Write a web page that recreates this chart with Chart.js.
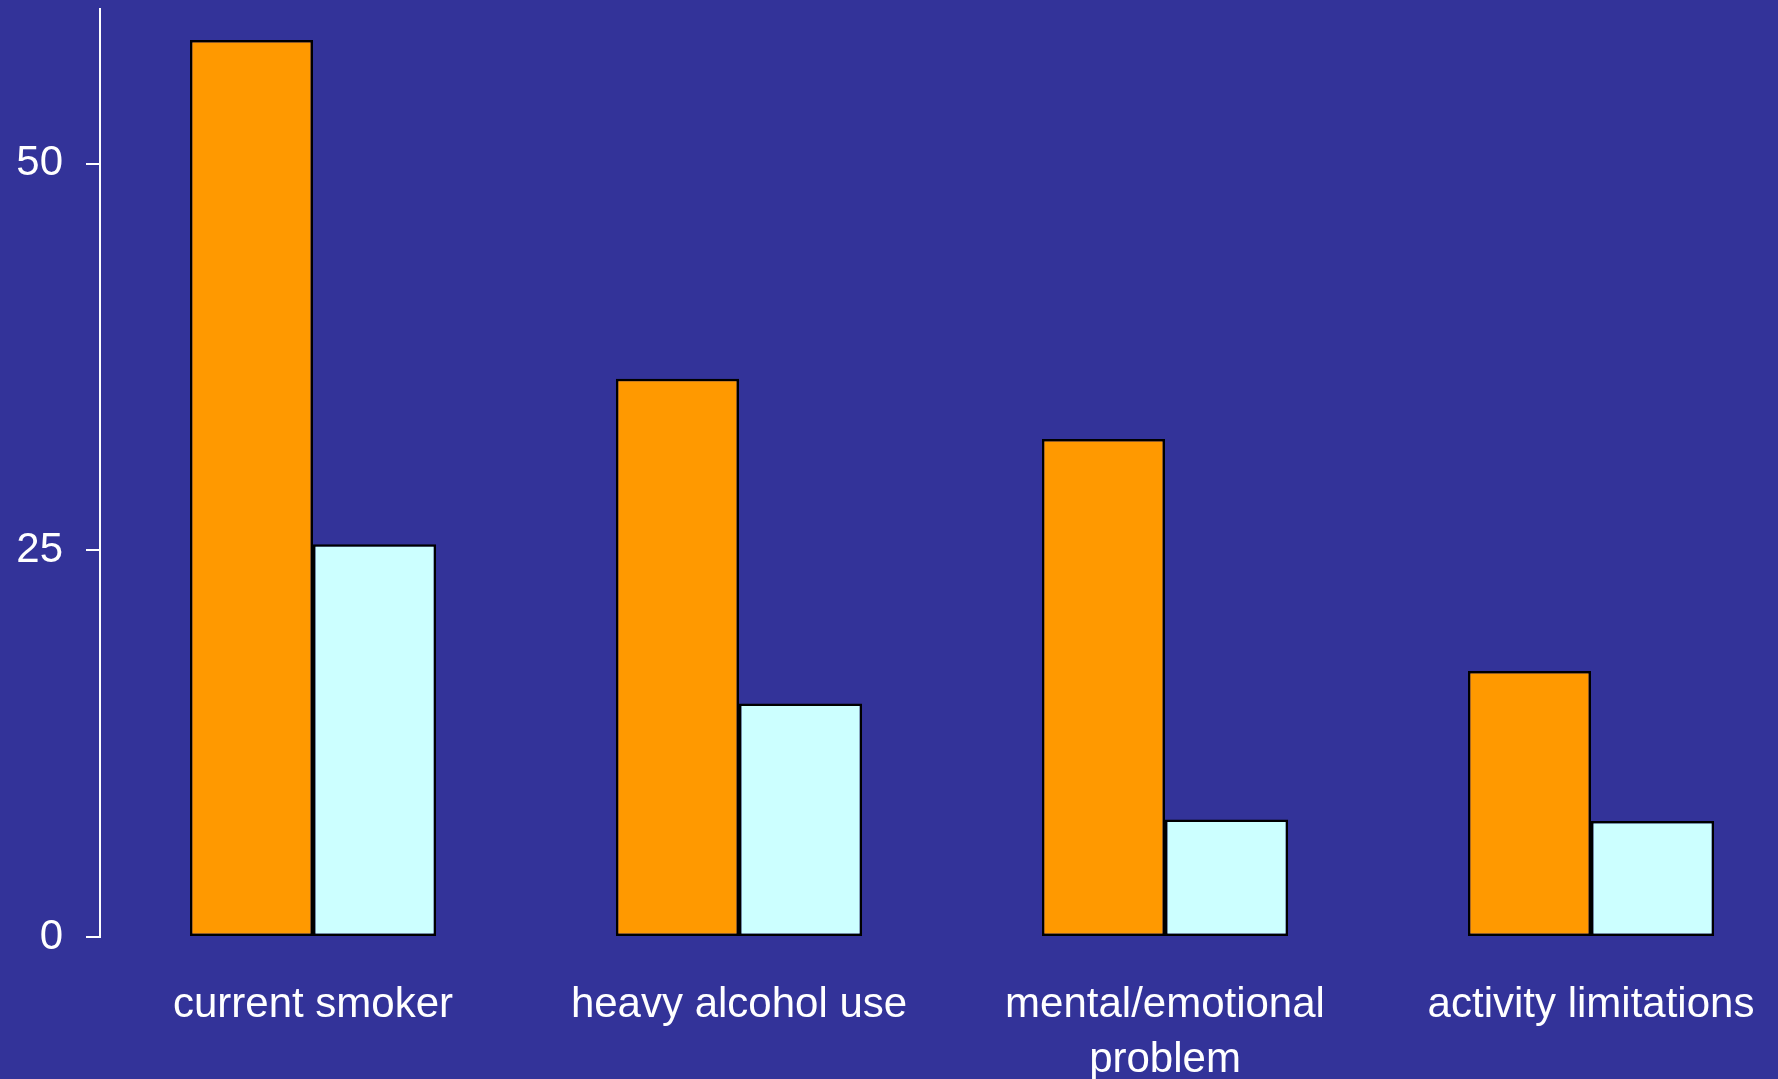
<!DOCTYPE html>
<html>
<head>
<meta charset="utf-8">
<script src="https://cdn.jsdelivr.net/npm/chart.js@4"></script>
<style>
	html, body {
		margin: 0;
		padding: 0;
		overflow: hidden;
		background: #333399;
	}
	#wrap {
		width: 1804px;
		height: 1079px;
	}
</style>
</head>
<body>
<div id="wrap"><canvas id="bar-canvas"></canvas></div>
<script>
const categories = [
	"current smoker",
	"heavy alcohol use",
	["mental/emotional", "problem"],
	"activity limitations",
];
const orangeValues = [58.0, 36.1, 32.2, 17.2];
const cyanValues = [25.4, 15.1, 7.6, 7.5];
const yTicks = [0, 25, 50];

const barCanvas = document.getElementById("bar-canvas").getContext("2d");

Chart.defaults.font.family = "Liberation Sans";
Chart.defaults.font.size = 42;
Chart.defaults.color = "#ffffff";

const barChart = new Chart(barCanvas, {
	type: "bar",

	data: {
		labels: categories,
		datasets: [
			{
				data: orangeValues,
				backgroundColor: "#ff9900",
				borderColor: "#000000",
				borderWidth: 2.5,
				borderSkipped: false,
			},
			{
				data: cyanValues,
				backgroundColor: "#ccffff",
				borderColor: "#000000",
				borderWidth: 2.5,
				borderSkipped: false,
			},
		],
	},

	options: {
		animation: false,
		responsive: true,
		maintainAspectRatio: false,
		layout: {
			padding: { top: 9, right: 0, bottom: 0, left: 0 },
		},
		datasets: {
			bar: {
				categoryPercentage: 0.578,
				barPercentage: 1,
			},
		},
		plugins: {
			legend: {
				display: false,
			},
			tooltip: {
				enabled: false,
			},
		},
		scales: {
			x: {
				grid: {
					display: false,
				},
				border: {
					display: false,
				},
				ticks: {
					color: "#ffffff",
					padding: 32,
					maxRotation: 0,
					autoSkip: false,
					font: { lineHeight: 1.33 },
				},
				afterFit: (scale) => {
					scale.height = 142;
				},
			},
			y: {
				min: 0,
				max: 60,
				afterBuildTicks: (scale) => {
					scale.ticks = yTicks.map((v) => ({ value: v }));
				},
				grid: {
					drawOnChartArea: false,
					color: "#ffffff",
					tickColor: "#ffffff",
					tickLength: 14,
					lineWidth: 2,
				},
				border: {
					color: "#ffffff",
					width: 2,
				},
				ticks: {
					color: "#ffffff",
					padding: 23,
				},
				afterFit: (scale) => {
					scale.width = 100;
					// axis runs to the very top, no room kept for labels
					scale.paddingTop = 0;
					scale.paddingBottom = 0;
				},
			},
		},
	},
});
</script>
</body>
</html>
